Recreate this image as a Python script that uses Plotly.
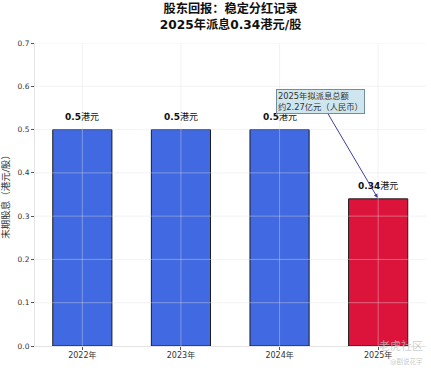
import plotly.graph_objects as go

years = ["2022年", "2023年", "2024年", "2025年"]
dividends = [0.5, 0.5, 0.5, 0.34]
bar_labels = ["<b>0.5</b>港元", "<b>0.5</b>港元", "<b>0.5</b>港元", "<b>0.34</b>港元"]
bar_colors = ["#4169E1", "#4169E1", "#4169E1", "#DC143C"]
y_ticks = [0, 0.1, 0.2, 0.3, 0.4, 0.5, 0.6, 0.7]
y_tick_text = ["0.0", "0.1", "0.2", "0.3", "0.4", "0.5", "0.6", "0.7"]
note_text = "2025年拟派息总额<br>约2.27亿元（人民币）"

FONT = "DejaVu Sans, Noto Sans CJK SC"

fig = go.Figure()
fig.add_trace(go.Bar(
    x=years, y=dividends, width=0.6,
    marker=dict(color=bar_colors, line=dict(color="#1c1c1c", width=1)),
    hoverinfo="skip",
))

for i, (yr, v, lab) in enumerate(zip(years, dividends, bar_labels)):
    fig.add_annotation(x=yr, y=v, xref="x", yref="y", text=lab, showarrow=False,
                       yanchor="bottom", yshift=6,
                       font=dict(size=9, color="#111111", family=FONT))

# Grid lines sit on top of the bars in the reference
for t in y_ticks[1:]:
    fig.add_shape(type="line", xref="paper", x0=0, x1=1, yref="y", y0=t, y1=t,
                  line=dict(color="rgba(225,225,225,0.4)", width=1), layer="above")
for i in range(len(years)):
    fig.add_shape(type="line", xref="x", x0=i, x1=i, yref="paper", y0=0, y1=1,
                  line=dict(color="rgba(225,225,225,0.4)", width=1), layer="above")

fig.add_annotation(
    x=3, y=dividends[3], xref="x", yref="y",
    ax=2.42, ay=0.564, axref="x", ayref="y",
    text=note_text, showarrow=True, arrowhead=2, arrowsize=0.8, arrowwidth=1,
    arrowcolor="#3f3f9f", standoff=1,
    font=dict(size=8.3, color="#333333", family=FONT), align="left",
    bgcolor="#CFE6EE", bordercolor="#6f8f9f", borderwidth=1, borderpad=1,
)

fig.update_layout(
    width=431, height=372,
    margin=dict(l=33, r=5, t=43, b=26),
    paper_bgcolor="white", plot_bgcolor="white",
    showlegend=False,
    font=dict(family=FONT, color="#333333"),
    title=dict(
        text="<b>股东回报：稳定分红记录<br>2025年派息0.34港元/股</b>",
        x=0.535, xanchor="center", y=0.965, yanchor="top",
        font=dict(size=12.2, color="#111111", family=FONT),
    ),
    xaxis=dict(
        type="category", range=[-0.48, 3.485],
        showgrid=False, zeroline=False, ticks="outside", ticklen=3,
        ticklabelstandoff=-2,
        tickcolor="#555555", tickfont=dict(size=8, color="#333333"),
        showline=True, linecolor="#e4e4e4", linewidth=1,
    ),
    yaxis=dict(
        range=[0, 0.7], tickvals=y_ticks, ticktext=y_tick_text,
        showgrid=False, zeroline=False, ticks="outside", ticklen=3,
        tickcolor="#555555", tickfont=dict(size=7.5, color="#333333"),
        showline=True, linecolor="#e4e4e4", linewidth=1,
        title=dict(text="末期股息（港元/股）", font=dict(size=9.5, color="#333333"), standoff=6),
    ),
)

# Source watermark
fig.add_annotation(xref="paper", yref="paper", x=0.998, y=0.0, xanchor="right", yanchor="middle",
                   text="老虎社区", showarrow=False, font=dict(size=11, color="rgba(190,190,190,0.75)"))
fig.add_annotation(xref="paper", yref="paper", x=0.998, y=-0.052, xanchor="right", yanchor="middle",
                   text="@剧说花宇", showarrow=False, font=dict(size=6.5, color="rgba(190,190,190,0.85)"))

fig.write_html("out.html", config={"displayModeBar": False},
               post_script="document.body.style.margin='0';")
